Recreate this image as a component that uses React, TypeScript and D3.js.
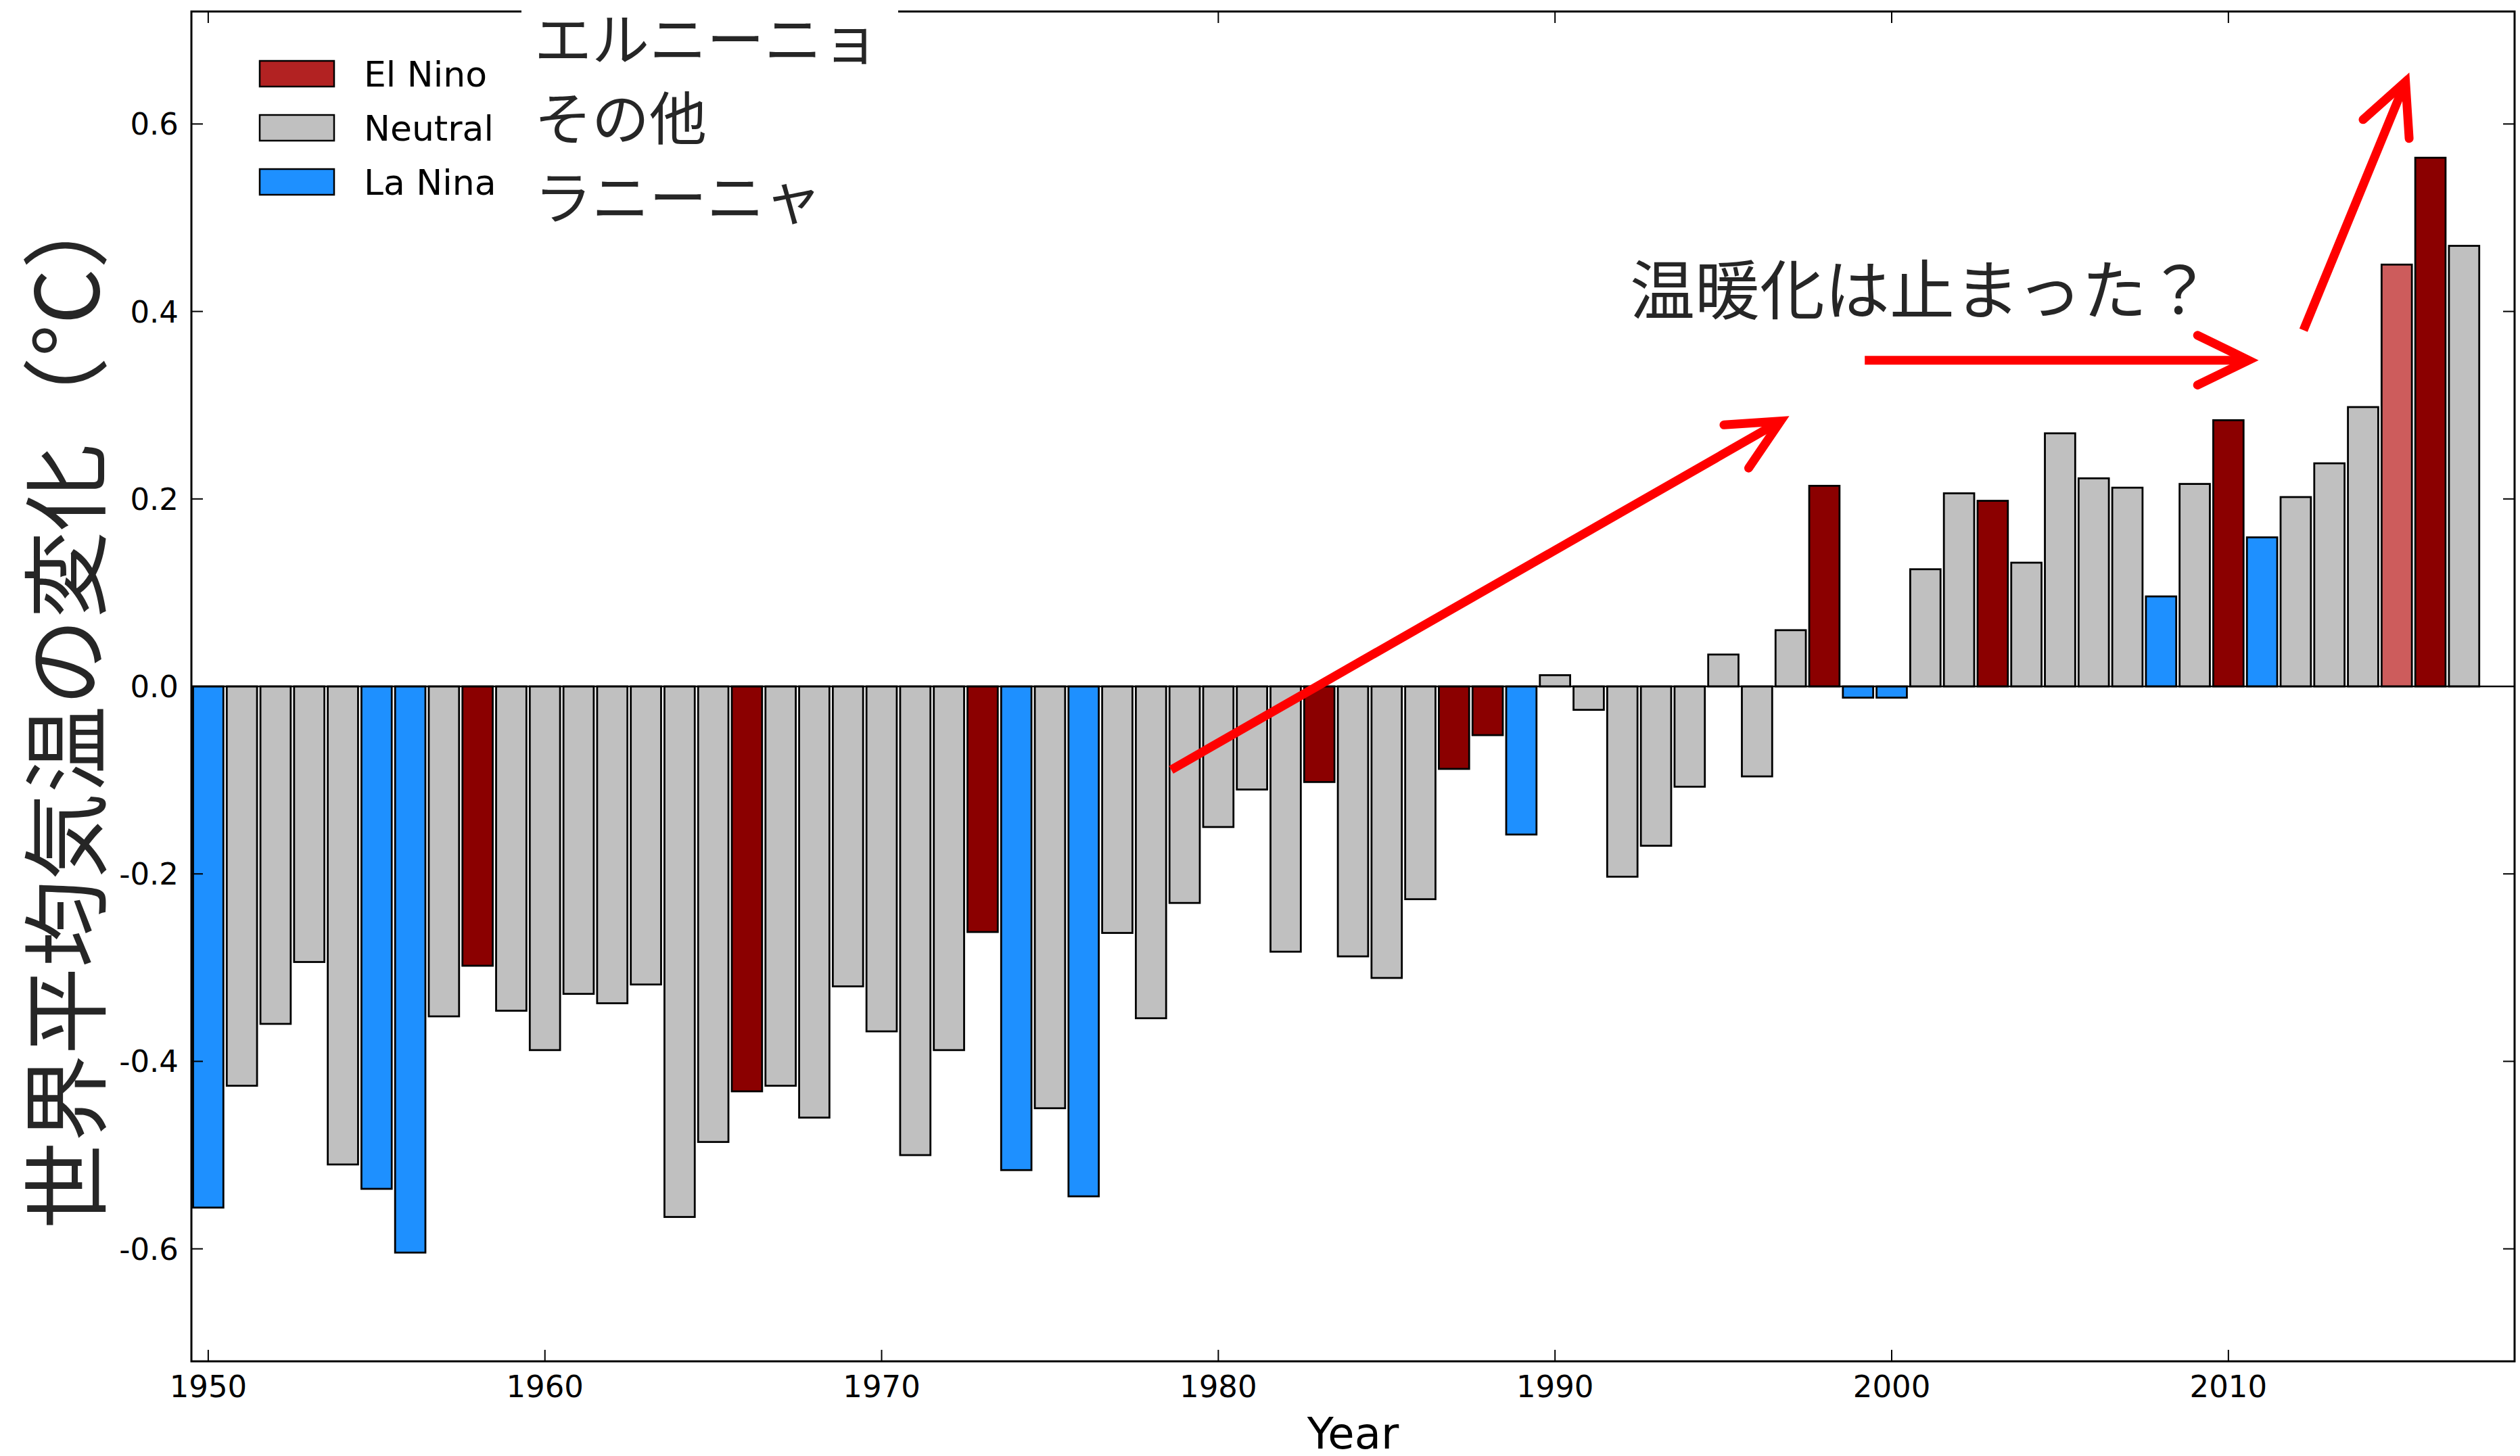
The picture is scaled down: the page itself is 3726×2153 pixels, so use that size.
import React from 'react';
import * as d3 from 'd3';

// ---- data ----
const years = [
  1950, 1951, 1952, 1953, 1954, 1955, 1956, 1957, 1958, 1959,
  1960, 1961, 1962, 1963, 1964, 1965, 1966, 1967, 1968, 1969,
  1970, 1971, 1972, 1973, 1974, 1975, 1976, 1977, 1978, 1979,
  1980, 1981, 1982, 1983, 1984, 1985, 1986, 1987, 1988, 1989,
  1990, 1991, 1992, 1993, 1994, 1995, 1996, 1997, 1998, 1999,
  2000, 2001, 2002, 2003, 2004, 2005, 2006, 2007, 2008, 2009,
  2010, 2011, 2012, 2013, 2014, 2015, 2016, 2017,
];

const anomalies = [
  -0.556, -0.426, -0.360, -0.294, -0.510, -0.536, -0.604, -0.352, -0.298, -0.346,
  -0.388, -0.328, -0.338, -0.318, -0.566, -0.486, -0.432, -0.426, -0.460, -0.320,
  -0.368, -0.500, -0.388, -0.262, -0.516, -0.450, -0.544, -0.263, -0.354, -0.231,
  -0.150, -0.110, -0.283, -0.102, -0.288, -0.311, -0.227, -0.088, -0.052, -0.158,
  0.012, -0.025, -0.203, -0.170, -0.107, 0.034, -0.096, 0.060, 0.214, -0.012,
  -0.012, 0.125, 0.206, 0.198, 0.132, 0.270, 0.222, 0.212, 0.096, 0.216,
  0.284, 0.159, 0.202, 0.238, 0.298, 0.450, 0.564, 0.470,
];

// E = El Nino, N = Neutral, L = La Nina, P = 2015 (highlighted El Nino)
const phases = [
  'L', 'N', 'N', 'N', 'N', 'L', 'L', 'N', 'E', 'N',
  'N', 'N', 'N', 'N', 'N', 'N', 'E', 'N', 'N', 'N',
  'N', 'N', 'N', 'E', 'L', 'N', 'L', 'N', 'N', 'N',
  'N', 'N', 'N', 'E', 'N', 'N', 'N', 'E', 'E', 'L',
  'N', 'N', 'N', 'N', 'N', 'N', 'N', 'N', 'E', 'L',
  'L', 'N', 'N', 'E', 'N', 'N', 'N', 'N', 'L', 'N',
  'E', 'L', 'N', 'N', 'N', 'P', 'E', 'N',
];

const xTicks = [1950, 1960, 1970, 1980, 1990, 2000, 2010];
const yTicks = [-0.6, -0.4, -0.2, 0.0, 0.2, 0.4, 0.6];
const yTickLabels = ['-0.6', '-0.4', '-0.2', '0.0', '0.2', '0.4', '0.6'];

const legendLabels = ['El Nino', 'Neutral', 'La Nina'];
const legendKeys = ['legendE', 'N', 'L'];
const jpLabels = ['エルニーニョ', 'その他', 'ラニーニャ'];

const title = '温暖化は止まった？';
const yLabel = '世界平均気温の変化（°C）';
const xLabel = 'Year';

// arrows in data coordinates [year, value]
const arrowStarts = [[1978.6, -0.089], [1999.2, 0.348], [2012.23, 0.38]];
const arrowTips = [[1996.7, 0.283], [2010.6, 0.348], [2015.26, 0.645]];

const colors: Record<string, string> = {
  E: '#8B0000',
  N: '#C0C0C0',
  L: '#1E90FF',
  P: '#CD5C5C',
  legendE: '#B22222',
};

const W = 3726;
const H = 2153;
const plot = { left: 283, right: 3718, top: 17, bottom: 2013 };

export default function App() {
  const x = d3.scaleLinear().domain([1949.5, 2018.5]).range([plot.left, plot.right]);
  const y = d3.scaleLinear().domain([-0.72, 0.72]).range([plot.bottom, plot.top]);
  const barW = 0.9;
  const tickLen = 17;

  const arrowHead = (s: number[], t: number[], L: number, ang: number) => {
    const sx = x(s[0]), sy = y(s[1]);
    const tx = x(t[0]), ty = y(t[1]);
    const dx = sx - tx, dy = sy - ty;
    const n = Math.hypot(dx, dy);
    const bx = dx / n, by = dy / n;
    const rot = (a: number) => [
      tx + L * (bx * Math.cos(a) - by * Math.sin(a)),
      ty + L * (bx * Math.sin(a) + by * Math.cos(a)),
    ];
    const a1 = rot(ang), a2 = rot(-ang);
    return {
      shaft: `M${sx},${sy}L${tx + bx * 8},${ty + by * 8}`,
      head: `M${a1[0]},${a1[1]}L${tx},${ty}L${a2[0]},${a2[1]}`,
    };
  };

  const tickFont = 'DejaVu Sans, Bitstream Vera Sans, sans-serif';
  const jpFont = '"Noto Sans CJK JP", "Noto Sans CJK SC", sans-serif';

  return (
    <svg
      width={W}
      height={H}
      style={{ position: 'absolute', left: 0, top: 0, background: '#fff' }}
    >
      <rect x={0} y={0} width={W} height={H} fill="#fff" />

      {/* bars */}
      <g>
        {years.map((yr, i) => {
          const v = anomalies[i];
          const x0 = x(yr - barW / 2);
          const x1 = x(yr + barW / 2);
          const y0 = y(Math.max(0, v));
          const y1 = y(Math.min(0, v));
          return (
            <rect
              key={yr}
              x={x0}
              y={y0}
              width={x1 - x0}
              height={Math.max(y1 - y0, 0.5)}
              fill={colors[phases[i]]}
              stroke="#000"
              strokeWidth={2.8}
            />
          );
        })}
      </g>

      {/* zero line */}
      <line x1={plot.left} x2={plot.right} y1={y(0)} y2={y(0)} stroke="#000" strokeWidth={2.5} />

      {/* ticks */}
      <g stroke="#000" strokeWidth={2}>
        {xTicks.map((t) => (
          <g key={'xt' + t}>
            <line x1={x(t)} x2={x(t)} y1={plot.bottom} y2={plot.bottom - tickLen} />
            <line x1={x(t)} x2={x(t)} y1={plot.top} y2={plot.top + tickLen} />
          </g>
        ))}
        {yTicks.map((t) => (
          <g key={'yt' + t}>
            <line x1={plot.left} x2={plot.left + tickLen} y1={y(t)} y2={y(t)} />
            <line x1={plot.right} x2={plot.right - tickLen} y1={y(t)} y2={y(t)} />
          </g>
        ))}
      </g>

      {/* frame */}
      <rect
        x={plot.left}
        y={plot.top}
        width={plot.right - plot.left}
        height={plot.bottom - plot.top}
        fill="none"
        stroke="#000"
        strokeWidth={3}
      />

      {/* tick labels */}
      <g fontFamily={tickFont} fontSize={45} fill="#000">
        {xTicks.map((t) => (
          <text key={'xl' + t} x={x(t)} y={2066} textAnchor="middle">
            {String(t)}
          </text>
        ))}
        {yTicks.map((t, i) => (
          <text key={'yl' + t} x={264} y={y(t) + 16} textAnchor="end">
            {yTickLabels[i]}
          </text>
        ))}
      </g>

      {/* axis labels */}
      <text
        x={(plot.left + plot.right) / 2}
        y={2142}
        textAnchor="middle"
        fontFamily={tickFont}
        fontSize={64}
        fill="#000"
      >
        {xLabel}
      </text>
      <text
        transform={`translate(89, 1043) rotate(-90)`}
        textAnchor="middle"
        dominantBaseline="central"
        fontFamily={jpFont}
        fontSize={129}
        fill="#262626"
      >
        {yLabel}
      </text>

      {/* legend */}
      <g>
        {legendLabels.map((lab, i) => {
          const cy = 109 + i * 80;
          return (
            <g key={lab}>
              <rect
                x={384}
                y={cy - 19}
                width={110}
                height={38}
                fill={colors[legendKeys[i]]}
                stroke="#000"
                strokeWidth={2.5}
              />
              <text x={538} y={cy + 19} fontFamily={tickFont} fontSize={52} fill="#000">
                {lab}
              </text>
            </g>
          );
        })}
      </g>

      {/* white box with japanese labels */}
      <rect x={771} y={0} width={557} height={340} fill="#fff" />
      <g fontFamily={jpFont} fontSize={85} fill="#262626">
        {jpLabels.map((lab, i) => (
          <text key={lab} x={790} y={90 + i * 117}>
            {lab}
          </text>
        ))}
      </g>

      {/* annotation text */}
      <text x={2410} y={464} fontFamily={jpFont} fontSize={96} fill="#262626">
        {title}
      </text>

      {/* arrows */}
      <g fill="none" stroke="#FF0000" strokeWidth={13}>
        {arrowStarts.map((s, i) => {
          const a = arrowHead(s, arrowTips[i], 84, (26 * Math.PI) / 180);
          return (
            <g key={'ar' + i}>
              <path d={a.shaft} strokeLinecap="butt" />
              <path d={a.head} strokeLinecap="round" strokeLinejoin="miter" strokeMiterlimit={10} />
            </g>
          );
        })}
      </g>
    </svg>
  );
}
